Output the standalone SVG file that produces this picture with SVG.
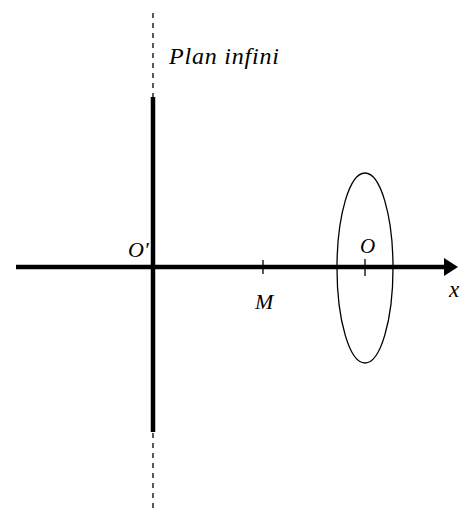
<svg xmlns="http://www.w3.org/2000/svg" width="475" height="513" viewBox="0 0 475 513">
<style>
.lbl{font-family:"Liberation Serif","DejaVu Serif",serif;font-style:italic;fill:#000}
.thick{stroke:#000;stroke-width:4.5;fill:none}
.thin{stroke:#000;stroke-width:1.3;fill:none}
</style>
<rect width="475" height="513" fill="#fff"/>
<g id="plan">
<line x1="153" y1="13" x2="153" y2="513" stroke="#000" stroke-width="1.3" stroke-dasharray="5,5"/>
<line x1="153" y1="97" x2="153" y2="432" class="thick"/>
<text x="169" y="64" class="lbl" font-size="24" textLength="110" lengthAdjust="spacing">Plan infini</text>
</g>
<g id="connectors">
<line x1="16" y1="267" x2="446" y2="267" class="thick"/>
<polygon points="444,258 458,267 444,276" fill="#000"/>
</g>
<g id="Oprime">
<text x="128" y="257" class="lbl" font-size="22">O′</text>
</g>
<g id="M">
<line x1="263" y1="260" x2="263" y2="274" class="thin"/>
<text x="255" y="309" class="lbl" font-size="22">M</text>
</g>
<g id="O">
<ellipse cx="365" cy="268" rx="28" ry="95" class="thin"/>
<line x1="365" y1="259" x2="365" y2="276" class="thin"/>
<text x="360" y="253" class="lbl" font-size="21">O</text>
</g>
<g id="x">
<text x="449" y="297" class="lbl" font-size="23">x</text>
</g>
</svg>
